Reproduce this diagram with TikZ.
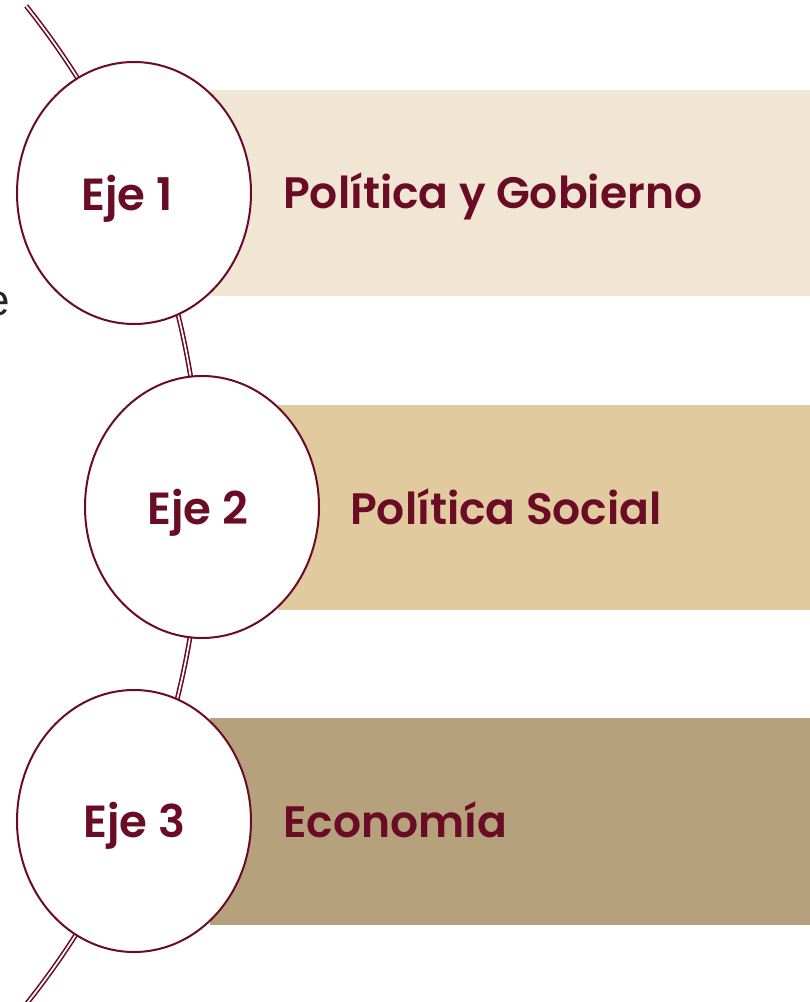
\documentclass[tikz,border=0pt]{standalone}
\usepackage{fontspec}
\setmainfont{Poppins}[BoldFont={* SemiBold}]
\newfontfamily\lib{Liberation Sans}
\usetikzlibrary{shapes.geometric}
\definecolor{guinda}{HTML}{6B0C26}
\definecolor{bandA}{HTML}{F0E6D3}
\definecolor{bandB}{HTML}{E1CA9E}
\definecolor{bandC}{HTML}{B5A17B}
\tikzset{
  disc/.style={ellipse, draw=guinda, line width=2pt, fill=white, minimum width=234pt, minimum height=262pt, inner sep=0pt},
  ejelabel/.style={anchor=base west, inner sep=0pt, text=guinda, font=\bfseries\fontsize{45}{45}\selectfont},
  bandlabel/.style={anchor=base west, inner sep=0pt, text=guinda, font=\bfseries\fontsize{44}{44}\selectfont},
  track/.style={draw=guinda, line width=1.6pt, double=white, double distance=1.7pt}
}
\begin{document}
\begin{tikzpicture}[x=1pt,y=-1pt]
\useasboundingbox (0,0) rectangle (810,1002);
% bands
\fill[bandA] (210,90) rectangle (810,296);
\fill[bandB] (278,405) rectangle (810,610);
\fill[bandC] (210,718) rectangle (810,925);
% track
\coordinate (c) at (-599,505);
\draw[track] (c) ++(-41:800pt) arc[start angle=-41, end angle=38.6, radius=800pt];
% discs
\node[disc] (e1) at (134,193) {};
\node[disc] (e2) at (202,507) {};
\node[disc] (e3) at (134,821) {};
% labels
\node[ejelabel] (t1) at (81,210) {Eje 1};
\node[ejelabel] (t2) at (147,524) {Eje 2};
\node[ejelabel] (t3) at (83,837) {Eje 3};
\node[bandlabel] (b1) at (283,208) {Política y Gobierno};
\node[bandlabel] (b2) at (350,524) {Política Social};
\node[bandlabel] (b3) at (283,837) {Economía};
\node[anchor=base east, inner sep=0pt, text=black!85, font=\lib\fontsize{44}{44}\selectfont] (frag) at (10,315) {e};
\end{tikzpicture}
\end{document}
